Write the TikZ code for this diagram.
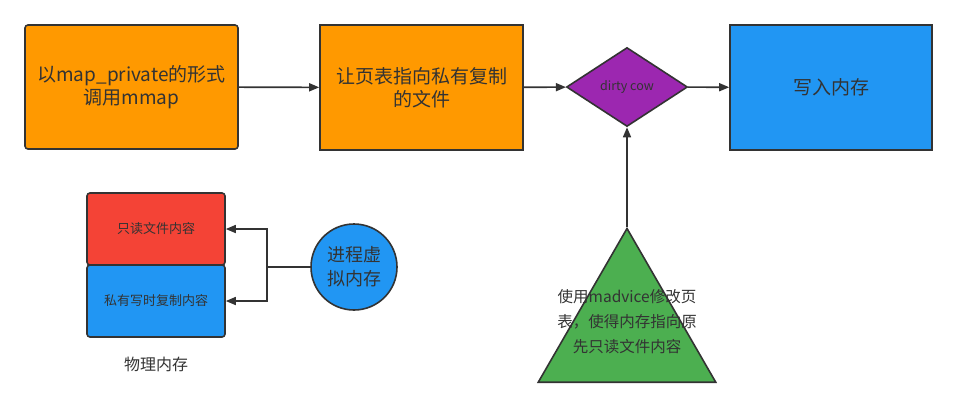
\documentclass[tikz,border=0pt]{standalone}
\usepackage{fontspec}
\setmainfont{Noto Sans CJK SC}
\usetikzlibrary{arrows.meta,shapes.geometric}
\definecolor{ink}{HTML}{333333}
\definecolor{boxorange}{HTML}{FF9900}
\definecolor{boxblue}{HTML}{2196F3}
\definecolor{boxred}{HTML}{F44336}
\definecolor{boxpurple}{HTML}{9C27B0}
\definecolor{boxgreen}{HTML}{4CAF50}
\begin{document}
\begin{tikzpicture}[x=1pt, y=-1pt,
    stepbox/.style={draw=ink, line width=1.6pt, text=ink, inner sep=0pt, align=center,
                    font=\fontsize{19}{23}\selectfont},
    membox/.style={stepbox, rounded corners=3pt, fill=boxblue, minimum width=138pt,
                   minimum height=72pt, font=\fontsize{13}{16}\selectfont},
    flow/.style={draw=ink, line width=1.6pt, -{Triangle[length=10pt,width=8pt]}}]
  \useasboundingbox (0,0) rectangle (957,408);
  % Top row
  \node[stepbox, fill=boxorange, rounded corners=3pt, minimum width=213pt, minimum height=124pt]
    (mmap) at (131.5,87) {以map\_private的形式\\调用mmap};
  \node[stepbox, fill=boxorange, minimum width=203pt, minimum height=125pt]
    (pte) at (421.5,87.5) {让页表指向私有复制\\的文件};
  \node[stepbox, diamond, fill=boxpurple, minimum width=121pt, minimum height=79pt,
    font=\fontsize{12.5}{15}\selectfont] (cow) at (627,87) {dirty cow};
  \node[stepbox, fill=boxblue, minimum width=202pt, minimum height=125pt]
    (write) at (831,87.5) {写入内存};
  \draw[flow] (mmap) -- (pte);
  \draw[flow] (pte) -- (cow);
  \draw[flow] (cow) -- (write);
  % madvice
  \node[stepbox, regular polygon, regular polygon sides=3, fill=boxgreen,
    minimum size=205pt] (adv) at (627,331) {};
  \node[text=ink, align=center, font=\fontsize{15.5}{25}\selectfont] (advtext) at (627,322)
    {使用madvice修改页\\表，使得内存指向原\\先只读文件内容};
  \draw[flow] (adv.corner 1) -- (cow.south);
  % Physical memory
  \node[membox, fill=boxred] (ro) at (156,229) {只读文件内容};
  \node[membox] (priv) at (156,301) {私有写时复制内容};
  \node[text=ink, font=\fontsize{16}{20}\selectfont] (phys) at (156,364) {物理内存};
  % Virtual memory
  \node[stepbox, circle, fill=boxblue, minimum size=86pt, font=\fontsize{18}{24}\selectfont]
    (vm) at (354,267) {进程虚\\拟内存};
  \coordinate (split) at (267,267);
  \draw[draw=ink, line width=1.6pt] (vm.west) -- (split);
  \draw[flow] (split) |- (ro.east);
  \draw[flow] (split) |- (priv.east);
\end{tikzpicture}
\end{document}
